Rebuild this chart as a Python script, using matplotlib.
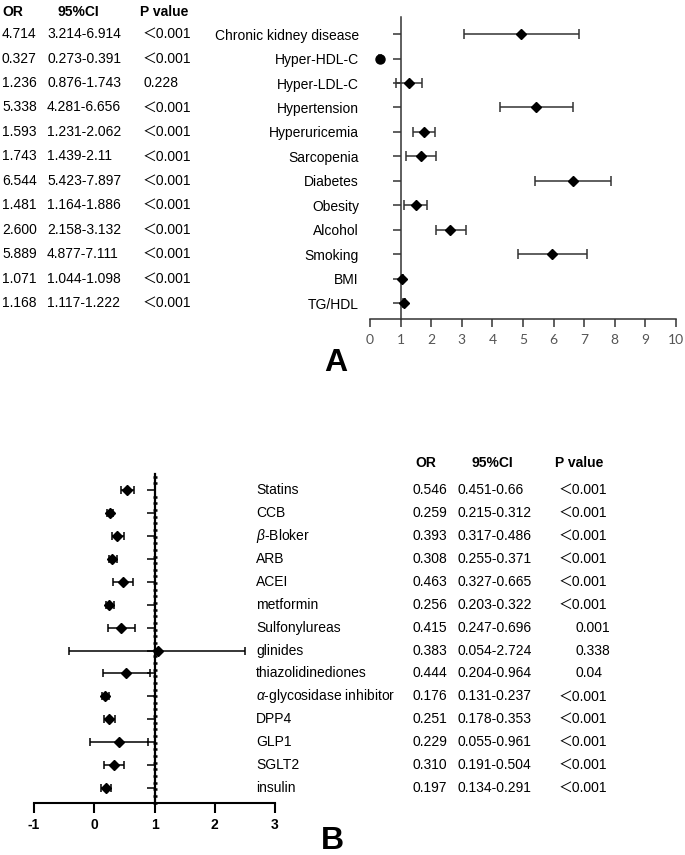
import numpy as np
import matplotlib
matplotlib.use('Agg')
import matplotlib.pyplot as plt
from matplotlib.transforms import blended_transform_factory
from matplotlib.ticker import MultipleLocator

plt.rcParams['font.family'] = ['Liberation Sans', 'Noto Sans CJK SC', 'DejaVu Sans']
plt.rcParams['mathtext.fontset'] = 'custom'
plt.rcParams['mathtext.rm'] = 'Liberation Sans'
plt.rcParams['mathtext.it'] = 'Liberation Sans:italic'
plt.rcParams['axes.unicode_minus'] = False

# panel A: risk factors
risk_labels = ['Chronic kidney disease', 'Hyper-HDL-C', 'Hyper-LDL-C', 'Hypertension',
               'Hyperuricemia', 'Sarcopenia', 'Diabetes', 'Obesity', 'Alcohol',
               'Smoking', 'BMI', 'TG/HDL']
risk_or_txt = ['4.714', '0.327', '1.236', '5.338', '1.593', '1.743', '6.544', '1.481',
               '2.600', '5.889', '1.071', '1.168']
risk_ci_txt = ['3.214-6.914', '0.273-0.391', '0.876-1.743', '4.281-6.656', '1.231-2.062',
               '1.439-2.11', '5.423-7.897', '1.164-1.886', '2.158-3.132', '4.877-7.111',
               '1.044-1.098', '1.117-1.222']
risk_p_txt = ['＜0.001', '＜0.001', '0.228', '＜0.001', '＜0.001', '＜0.001', '＜0.001',
              '＜0.001', '＜0.001', '＜0.001', '＜0.001', '＜0.001']
# plotted positions
risk_est = [4.93, 0.33, 1.27, 5.44, 1.76, 1.67, 6.62, 1.50, 2.63, 5.96, 1.06, 1.10]
risk_lo = [3.08, 0.30, 0.84, 4.24, 1.42, 1.18, 5.38, 1.12, 2.15, 4.85, 1.04, 1.07]
risk_hi = [6.82, 0.36, 1.71, 6.62, 2.11, 2.17, 7.86, 1.87, 3.14, 7.08, 1.09, 1.13]
risk_marker = ['D', 'o', 'D', 'D', 'D', 'D', 'D', 'D', 'D', 'D', 'D', 'D']

# panel B: drugs
drug_labels = ['Statins', 'CCB', r'$\mathit{\beta}$-Bloker', 'ARB', 'ACEI', 'metformin',
               'Sulfonylureas', 'glinides', 'thiazolidinediones',
               r'$\mathit{\alpha}$-glycosidase inhibitor', 'DPP4', 'GLP1', 'SGLT2', 'insulin']
drug_or_txt = ['0.546', '0.259', '0.393', '0.308', '0.463', '0.256', '0.415', '0.383',
               '0.444', '0.176', '0.251', '0.229', '0.310', '0.197']
drug_ci_txt = ['0.451-0.66', '0.215-0.312', '0.317-0.486', '0.255-0.371', '0.327-0.665',
               '0.203-0.322', '0.247-0.696', '0.054-2.724', '0.204-0.964', '0.131-0.237',
               '0.178-0.353', '0.055-0.961', '0.191-0.504', '0.134-0.291']
drug_p_txt = ['＜0.001', '＜0.001', '＜0.001', '＜0.001', '＜0.001', '＜0.001', '0.001',
              '0.338', '0.04', '＜0.001', '＜0.001', '＜0.001', '＜0.001', '＜0.001']
drug_est = [0.545, 0.257, 0.385, 0.30, 0.478, 0.25, 0.45, 1.05, 0.53, 0.174, 0.246, 0.41, 0.33, 0.19]
drug_lo = [0.44, 0.21, 0.30, 0.25, 0.31, 0.20, 0.22, -0.42, 0.147, 0.13, 0.16, -0.075, 0.17, 0.12]
drug_hi = [0.655, 0.31, 0.49, 0.37, 0.64, 0.32, 0.68, 2.51, 0.93, 0.24, 0.34, 0.89, 0.49, 0.285]

W, H = 685, 855
fig = plt.figure(figsize=(W / 100, H / 100), dpi=100)


def px(x):
    return x / W


# ---- panel A ----
ax1 = fig.add_axes([px(370), 1 - 319 / H, px(306), (319 - 17) / H])
n1 = len(risk_labels)
y1 = np.arange(n1)
for i in range(n1):
    ax1.errorbar(risk_est[i], y1[i], xerr=[[risk_est[i] - risk_lo[i]], [risk_hi[i] - risk_est[i]]],
                 fmt=risk_marker[i], color='black', ecolor='#333333', elinewidth=1.1,
                 capsize=3.5, capthick=1.1, ms=5.5 if risk_marker[i] == 'D' else 6.5, zorder=3)
ax1.set_xlim(0, 10)
ax1.set_ylim(n1 - 0.35, -0.7)
ax1.spines['top'].set_visible(False)
ax1.spines['right'].set_visible(False)
ax1.spines['left'].set_position(('data', 1))
for s in ['left', 'bottom']:
    ax1.spines[s].set_color('#333333')
    ax1.spines[s].set_linewidth(1.1)
ax1.set_xticks(np.arange(0, 11, 1))
ax1.tick_params(axis='x', direction='out', length=6, width=1.1, color='#333333',
                labelcolor='#555555', labelsize=10, pad=5)
for lab in ax1.get_xticklabels():
    lab.set_family(['Lato', 'DejaVu Sans'])
ax1.set_yticks(y1)
ax1.set_yticklabels(risk_labels, fontsize=10)
ax1.tick_params(axis='y', direction='out', length=6, width=1.1, color='#333333', pad=24)

tr1 = blended_transform_factory(fig.transFigure, ax1.transData)
fig.text(px(2), 1 - 12 / H, 'OR', fontsize=10, fontweight='bold', va='center')
fig.text(px(57), 1 - 12 / H, '95%CI', fontsize=10, fontweight='bold', va='center')
fig.text(px(140), 1 - 12 / H, 'P value', fontsize=10, fontweight='bold', va='center')
for i in range(n1):
    ax1.text(px(2), y1[i], risk_or_txt[i], transform=tr1, fontsize=10, va='center')
    ax1.text(px(47), y1[i], risk_ci_txt[i], transform=tr1, fontsize=10, va='center')
    ax1.text(px(143), y1[i], risk_p_txt[i], transform=tr1, fontsize=10, va='center')
fig.text(px(336), 1 - 363 / H, 'A', fontsize=23, fontweight='bold', ha='center', va='center')

# ---- panel B ----
ax2 = fig.add_axes([px(34), 1 - 803 / H, px(241), (803 - 474) / H])
n2 = len(drug_labels)
y2 = np.arange(n2)
est = np.array(drug_est)
ax2.errorbar(est, y2, xerr=[est - np.array(drug_lo), np.array(drug_hi) - est],
             fmt='D', color='black', ecolor='black', elinewidth=1.1, capsize=3,
             capthick=1.1, ms=5.5, zorder=3)
ax2.set_xlim(-1, 3)
ax2.set_ylim(n2 - 0.35, -0.7)
ax2.spines['top'].set_visible(False)
ax2.spines['right'].set_visible(False)
ax2.spines['left'].set_position(('data', 1))
ax2.spines['left'].set_linewidth(1.6)
ax2.spines['bottom'].set_linewidth(1.5)
ax2.set_xticks([-1, 0, 1, 2, 3])
ax2.tick_params(axis='x', direction='out', length=7, width=1.5, labelsize=10, pad=4)
for lab in ax2.get_xticklabels():
    lab.set_fontweight('bold')
ax2.set_yticks(y2)
ax2.set_yticklabels([])
ax2.tick_params(axis='y', which='major', direction='out', length=6, width=1.1)
ax2.yaxis.set_minor_locator(MultipleLocator(0.29))
ax2.tick_params(axis='y', which='minor', direction='inout', length=3.5, width=1.8)

tr2 = blended_transform_factory(fig.transFigure, ax2.transData)
fig.text(px(415), 1 - 463 / H, 'OR', fontsize=10, fontweight='bold', va='center')
fig.text(px(471), 1 - 463 / H, '95%CI', fontsize=10, fontweight='bold', va='center')
fig.text(px(555), 1 - 463 / H, 'P value', fontsize=10, fontweight='bold', va='center')
for i in range(n2):
    ax2.text(px(256), y2[i], drug_labels[i], transform=tr2, fontsize=10, va='center')
    ax2.text(px(413), y2[i], drug_or_txt[i], transform=tr2, fontsize=10, va='center')
    ax2.text(px(458), y2[i], drug_ci_txt[i], transform=tr2, fontsize=10, va='center')
    xp = 559 if drug_p_txt[i].startswith('＜') else 576
    ax2.text(px(xp), y2[i], drug_p_txt[i], transform=tr2, fontsize=10, va='center')
fig.text(px(332), 1 - 841 / H, 'B', fontsize=23, fontweight='bold', ha='center', va='center')

fig.savefig('out.png', dpi=100)
